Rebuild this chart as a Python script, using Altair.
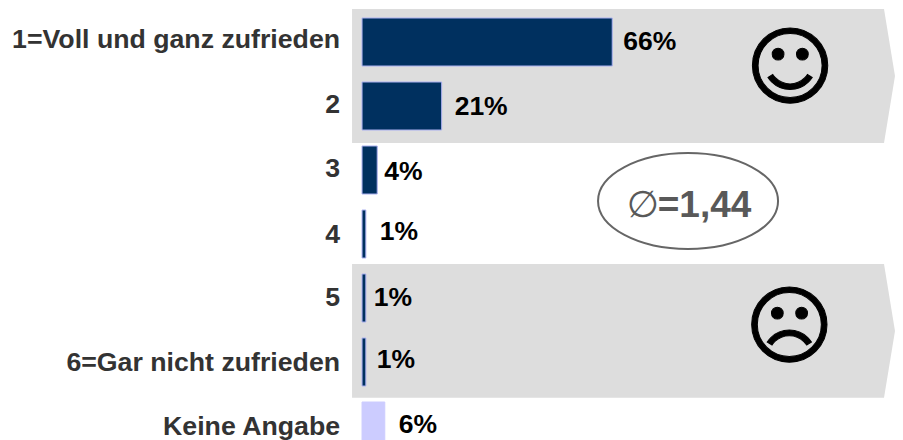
import altair as alt
import pandas as pd

categories = ["1=Voll und ganz zufrieden", "2", "3", "4", "5", "6=Gar nicht zufrieden", "Keine Angabe"]
shares = [66, 21, 4, 1, 1, 1, 6]
value_labels = ["66%", "21%", "4%", "1%", "1%", "1%", "6%"]
bar_colors = ["#00305F"] * 6 + ["#CCCCFF"]
rows = list(range(1, 8))

# small per-label nudges (px) seen in the source
value_dx = [11, 13, 7, 14, 8, 11, 14]
value_dy = [0, 1, 2, -2, 0, -2, -1]
cat_dy = [-2, -1, -1, 1, 0, 1, 1]

band_x = [-2.64, 137.7, 140.6]
good_top = [0.484, 0.484, 1.531]
good_bottom = [2.578, 2.578, 1.531]
bad_top = [4.47, 4.47, 5.515]
bad_bottom = [6.56, 6.56, 5.515]

X = alt.Scale(domain=[-93.4, 140.6], nice=False, zero=False)
Y = alt.Scale(domain=[0.46875, 7.21875], nice=False, zero=False, reverse=True)
FONT = "Liberation Sans"

def qx(f="x"):
    return alt.X(f"{f}:Q", scale=X, axis=None)

def qy(f="y"):
    return alt.Y(f"{f}:Q", scale=Y, axis=None)

layers = []
for top, bottom in ((good_top, good_bottom), (bad_top, bad_bottom)):
    d = pd.DataFrame({"x": band_x, "y": top, "y2": bottom})
    layers.append(alt.Chart(d).mark_area(color="#DDDDDD", opacity=1).encode(x=qx(), y=qy(), y2="y2:Q"))

bars = pd.DataFrame({"cat": categories, "share": shares, "row": rows, "c": bar_colors, "zero": [0] * 7})
bars["y0"] = bars["row"] - 0.375
bars["y1"] = bars["row"] + 0.375
layers.append(
    alt.Chart(bars)
    .mark_rect(strokeWidth=1)
    .encode(x=qx("zero"), x2="share:Q", y=qy("y0"), y2="y1:Q",
            fill=alt.Fill("c:N", scale=None),
            stroke=alt.Stroke("c:N", scale=alt.Scale(domain=["#00305F", "#CCCCFF"], range=["#AAB0F0", "#CCCCFF"]), legend=None))
)

for i, r in enumerate(rows):
    one = pd.DataFrame({"x": [shares[i]], "y": [r], "t": [value_labels[i]]})
    layers.append(
        alt.Chart(one)
        .mark_text(font=FONT, fontSize=26.5, fontWeight="bold", color="#000000", align="left", baseline="middle",
                   dx=value_dx[i], dy=value_dy[i])
        .encode(x=qx(), y=qy(), text="t:N")
    )
    cat = pd.DataFrame({"x": [-5.8], "y": [r], "t": [categories[i]]})
    layers.append(
        alt.Chart(cat)
        .mark_text(font=FONT, fontSize=26.7, fontWeight="bold", color="#333333", align="right", baseline="middle",
                   dy=cat_dy[i])
        .encode(x=qx(), y=qy(), text="t:N")
    )

def glyph(x, y, t, **kw):
    d = pd.DataFrame({"x": [x], "y": [y], "t": [t]})
    return alt.Chart(d).mark_text(baseline="middle", **kw).encode(x=qx(), y=qy(), text="t:N")

layers.append(glyph(112.9, 1.45, "☺", font="DejaVu Sans", fontSize=86, color="#000000", align="center",
                    stroke="#000000", strokeWidth=1))
layers.append(glyph(112.7, 5.5, "☹", font="DejaVu Sans", fontSize=86, color="#000000", align="center",
                    stroke="#000000", strokeWidth=1))

ell = pd.DataFrame({"x": [86], "y": [3.484]})
layers.append(
    alt.Chart(ell)
    .mark_point(shape="M-1,0 A1,0.533 0 1,0 1,0 A1,0.533 0 1,0 -1,0 Z", size=32400, filled=False,
                stroke="#666666", strokeWidth=2, opacity=1)
    .encode(x=qx(), y=qy())
)
layers.append(glyph(74.1, 3.56, "∅", font="DejaVu Sans", fontSize=37, color="#595959", align="center"))
layers.append(glyph(78, 3.56, "=1,44", font=FONT, fontSize=37, fontWeight="bold", color="#595959", align="left"))

chart = (
    alt.layer(*layers)
    .properties(width=887, height=432, padding=0, autosize=alt.AutoSizeParams(type="none"), background="#FFFFFF")
    .configure_view(stroke=None)
    .resolve_scale(stroke="independent", fill="independent")
)
chart.save("out.html", embed_options={"renderer": "svg", "actions": False})
